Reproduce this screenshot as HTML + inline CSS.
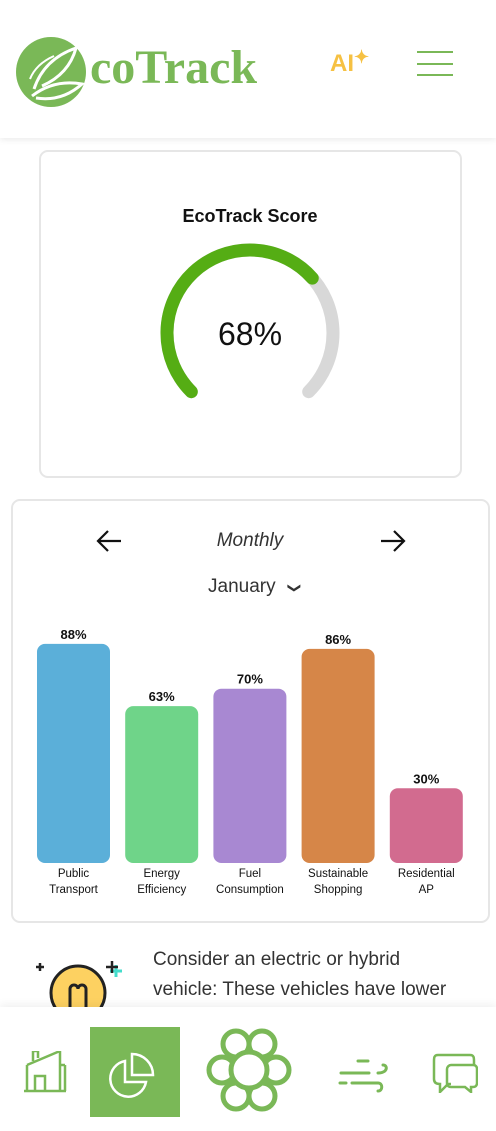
<!DOCTYPE html>
<html><head><meta charset="utf-8">
<style>
*{box-sizing:border-box;margin:0;padding:0}
body{width:496px;height:1131px;overflow:hidden;background:#fff;font-family:"Liberation Sans",sans-serif;position:relative}
.abs{position:absolute}
#header{left:0;top:0;width:496px;height:138px;background:#fff;box-shadow:0 2px 6px rgba(0,0,0,0.08)}
.card{border:2px solid #e6e6e6;border-radius:9px;background:#fff}
#nav{left:0;top:1007px;width:496px;height:124px;background:#fff;box-shadow:0 -3px 8px rgba(0,0,0,0.06)}
</style></head><body>
<div id="header" class="abs">
  <svg class="abs" style="left:14px;top:34px" width="80" height="80">
    <circle cx="37" cy="38" r="35" fill="#7ab857"/>
    <path d="M20 55 Q30 25 62 14 Q55 40 28 52" fill="none" stroke="#fff" stroke-width="3"/>
    <path d="M18 62 Q40 45 68 50 Q48 68 22 64" fill="none" stroke="#fff" stroke-width="3"/>
    <path d="M16 45 Q22 30 40 22" fill="none" stroke="#fff" stroke-width="2"/>
  </svg>
  <div class="abs" style="left:90px;top:40px;font-family:'Liberation Serif',serif;font-size:48px;font-weight:bold;color:#7ab857;line-height:56px">coTrack</div>
  <div class="abs" style="left:330px;top:50px;font-size:24px;font-weight:bold;color:#f6c143">AI<span style="font-size:18px;position:relative;top:-8px">✦</span></div>
  <div class="abs" style="left:417px;top:51px;width:36px;height:26px">
    <div class="abs" style="left:0;top:0;width:36px;height:2px;background:#7ab857"></div>
    <div class="abs" style="left:0;top:12px;width:36px;height:2px;background:#7ab857"></div>
    <div class="abs" style="left:0;top:23px;width:36px;height:2px;background:#7ab857"></div>
  </div>
</div>

<div class="abs card" style="left:39px;top:150px;width:423px;height:328px"></div>
<div class="abs" style="left:0;top:206px;width:500px;text-align:center;font-size:18px;font-weight:bold;color:#111">EcoTrack Score</div>
<svg class="abs" style="left:0;top:0" width="496" height="480">
  <path id="gTrack" fill="none" stroke="#d8d8d8" stroke-width="13" stroke-linecap="round"/>
  <path id="gVal" fill="none" stroke="#55ad14" stroke-width="13" stroke-linecap="round"/>
  <text x="250" y="345" text-anchor="middle" font-size="32" fill="#111" font-family="Liberation Sans, sans-serif">68%</text>
</svg>

<div class="abs card" style="left:11px;top:499px;width:479px;height:424px"></div>
<svg class="abs" style="left:95px;top:528px" width="28" height="26"><path d="M26 13H3M13 3L3 13L13 23" fill="none" stroke="#111" stroke-width="2.2"/></svg>
<svg class="abs" style="left:379px;top:528px" width="28" height="26"><path d="M2 13H25M15 3L25 13L15 23" fill="none" stroke="#111" stroke-width="2.2"/></svg>
<div class="abs" style="left:0;top:530px;width:500px;text-align:center;font-size:19px;font-style:italic;color:#333">Monthly</div>
<div class="abs" style="left:208px;top:576px;font-size:19px;color:#333">January <span style="font-size:13px;margin-left:8px;display:inline-block;transform:rotate(90deg)">&#10095;</span></div>
<svg id="chart" class="abs" style="left:0;top:0" width="496" height="930"></svg>

<svg class="abs" style="left:30px;top:955px" width="95" height="55">
  <circle cx="48" cy="38" r="27" fill="#fdd161" stroke="#222" stroke-width="3"/>
  <path d="M40 55V34a4 4 0 0 1 8 0M56 55V34a4 4 0 0 0-8 0" fill="none" stroke="#222" stroke-width="3"/>
  <path d="M6 12h8M10 8v8" stroke="#222" stroke-width="2.5"/><path d="M80 16h12M86 10v12" stroke="#4dc" stroke-width="3"/><path d="M76 12h12M82 6v12" stroke="#222" stroke-width="2.5"/>
</svg>
<div class="abs" style="left:153px;top:945px;width:305px;font-size:19px;line-height:30px;color:#333">Consider an electric or hybrid vehicle: These vehicles have lower</div>

<div id="nav" class="abs">
  <svg class="abs" style="left:22px;top:44px" width="46" height="42"><path d="M2 40H44M5 40V14M5 14L38 0M11 10V0h5v7M38 0V40M38 14h5M43 14V40M13 40V25h10V40" fill="none" stroke="#7ab857" stroke-width="2.5"/></svg>
  <div class="abs" style="left:90px;top:20px;width:90px;height:90px;background:#7ab857">
    <svg width="90" height="90"><path d="M35 34a18 18 0 1 0 21 21H35Z" fill="none" stroke="#fff" stroke-width="2.5"/><path d="M42 27v21h21A21 21 0 0 0 42 27Z" fill="none" stroke="#fff" stroke-width="2.5"/></svg>
  </div>
  <svg class="abs" style="left:205px;top:17px" width="88" height="92">
    <g fill="#fff" stroke="#7ab857" stroke-width="5">
      <circle cx="31" cy="20" r="13"/><circle cx="57" cy="20" r="13"/><circle cx="17" cy="46" r="13"/><circle cx="71" cy="46" r="13"/><circle cx="31" cy="72" r="13"/><circle cx="57" cy="72" r="13"/><circle cx="44" cy="46" r="18"/>
    </g>
  </svg>
  <svg class="abs" style="left:338px;top:52px" width="52" height="36"><path d="M20 2h10M3 14h28M40 14c10 0 10-8 5-8M14 24h26M8 24H2M40 24c5 0 5 8 0 8" fill="none" stroke="#7ab857" stroke-width="3" stroke-linecap="round"/></svg>
  <svg class="abs" style="left:432px;top:46px" width="46" height="40"><path d="M6 2h32c4 0 4 3 4 6v4M6 2C2 2 2 5 2 8v18c0 4 3 5 6 5v8l8-8h3" fill="none" stroke="#7ab857" stroke-width="2.5"/><path d="M19 12h22c3 0 4 2 4 4v14c0 3-2 4-4 4h-2v5l-6-5H19c-2 0-4-1-4-4V16c0-2 2-4 4-4Z" fill="none" stroke="#7ab857" stroke-width="2.5"/></svg>
</div>

<script>
const scoreValue = 68;
(function(){
  const cx=250, cy=333, r=83, start=135, sweep=270;
  function pt(a){const t=a*Math.PI/180;return [cx+r*Math.cos(t),cy+r*Math.sin(t)];}
  function arc(a0,a1){const p0=pt(a0),p1=pt(a1);const large=(a1-a0)>180?1:0;return `M${p0[0]} ${p0[1]} A${r} ${r} 0 ${large} 1 ${p1[0]} ${p1[1]}`;}
  document.getElementById('gTrack').setAttribute('d',arc(start,start+sweep));
  document.getElementById('gVal').setAttribute('d',arc(start,start+sweep*scoreValue/100));
})();

const categories = [["Public","Transport"],["Energy","Efficiency"],["Fuel","Consumption"],["Sustainable","Shopping"],["Residential","AP"]];
const values = [88, 63, 70, 86, 30];
const valueLabels = ["88%","63%","70%","86%","30%"];
const colors = ["#5bafd9","#6fd489","#a888d2","#d68648","#d26b8f"];

const svg = document.getElementById('chart');
const NS = 'http://www.w3.org/2000/svg';
const baseY = 863, pxPerUnit = 2.49, x0 = 37, step = 88.2, bw = 73;
function xPos(i){return x0 + i*step;}
function yPos(v){return baseY - v*pxPerUnit;}
values.forEach((v,i)=>{
  const x = xPos(i), y = yPos(v);
  const rect = document.createElementNS(NS,'rect');
  rect.setAttribute('x',x); rect.setAttribute('y',y);
  rect.setAttribute('width',bw); rect.setAttribute('height',baseY-y);
  rect.setAttribute('rx',8); rect.setAttribute('fill',colors[i]);
  
  
  svg.appendChild(rect);
  const t = document.createElementNS(NS,'text');
  t.setAttribute('x',x+bw/2); t.setAttribute('y',y-5);
  t.setAttribute('text-anchor','middle'); t.setAttribute('font-size','13');
  t.setAttribute('font-weight','bold'); t.setAttribute('fill','#111');
  t.setAttribute('font-family','Liberation Sans, sans-serif');
  t.textContent = valueLabels[i];
  
  
  svg.appendChild(t);
  categories[i].forEach((line,j)=>{
    const c = document.createElementNS(NS,'text');
    c.setAttribute('x',x+bw/2); c.setAttribute('y',baseY+14+j*16);
    c.setAttribute('text-anchor','middle'); c.setAttribute('font-size','11.5');
    c.setAttribute('fill','#111'); c.setAttribute('font-family','Liberation Sans, sans-serif');
    c.textContent = line;
    
    
    svg.appendChild(c);
  });
});
</script>
</body></html>
